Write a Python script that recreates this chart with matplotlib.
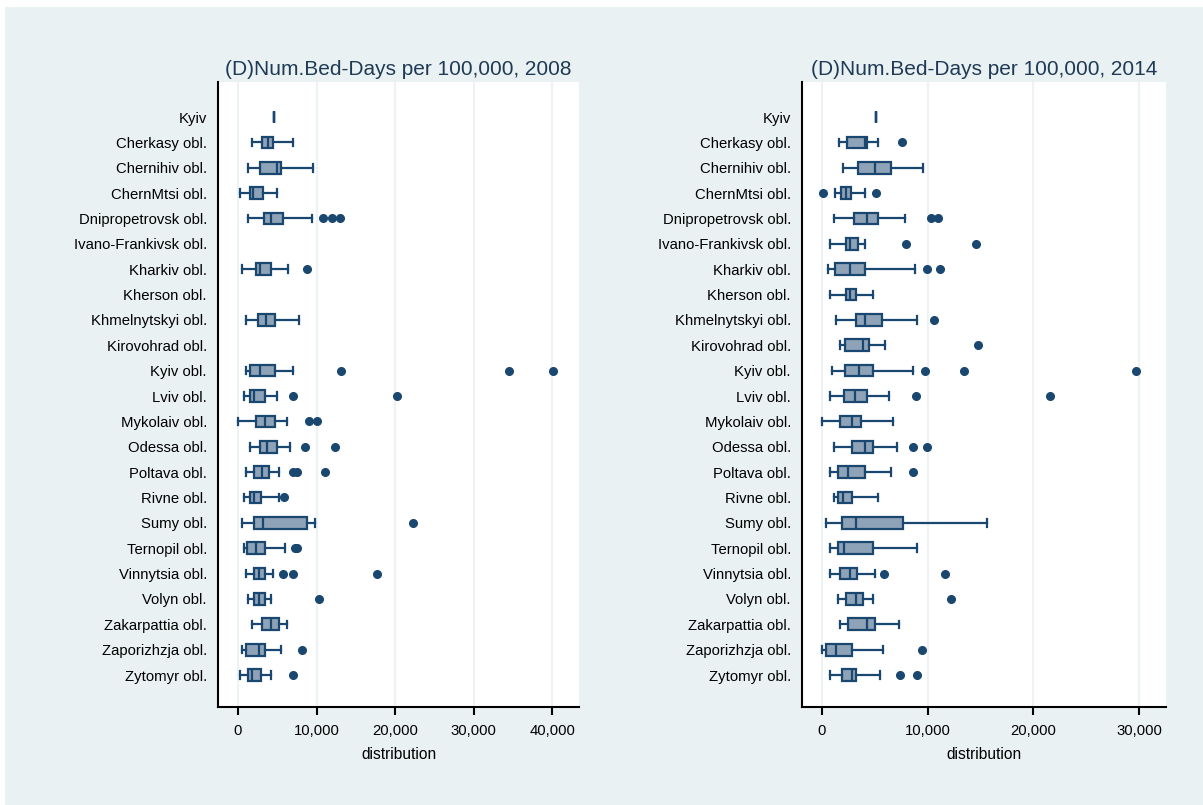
import matplotlib.pyplot as plt
from matplotlib.patches import Rectangle
from matplotlib.ticker import FuncFormatter

plt.rcParams['font.family'] = ['Liberation Sans', 'DejaVu Sans']

regions = ['Kyiv', 'Cherkasy obl.', 'Chernihiv obl.', 'ChernMtsi obl.',
           'Dnipropetrovsk obl.', 'Ivano-Frankivsk obl.', 'Kharkiv obl.',
           'Kherson obl.', 'Khmelnytskyi obl.', 'Kirovohrad obl.', 'Kyiv obl.',
           'Lviv obl.', 'Mykolaiv obl.', 'Odessa obl.', 'Poltava obl.',
           'Rivne obl.', 'Sumy obl.', 'Ternopil obl.', 'Vinnytsia obl.',
           'Volyn obl.', 'Zakarpattia obl.', 'Zaporizhzja obl.', 'Zytomyr obl.']

# 2008 summaries (None = no data shown)
lo_2008 = [4580, 1740, 1230, 210, 1230, None, 470, None, 975, None, 975, 720,
           0, 1480, 975, 720, 470, 720, 975, 1230, 1740, 470, 210]
q1_2008 = [4580, 3050, 2760, 1480, 3270, None, 2250, None, 2500, None, 1480,
           1480, 2250, 2760, 2000, 1480, 2000, 1100, 2000, 2000, 3010, 975, 1230]
med_2008 = [4580, 3770, 4920, 1950, 4150, None, 2800, None, 3520, None, 2840,
            2000, 3390, 3650, 3010, 2000, 3140, 2250, 2630, 2630, 4150, 2630, 1740]
q3_2008 = [4580, 4410, 5430, 3140, 5680, None, 4160, None, 4670, None, 4670,
           3390, 4670, 4920, 3900, 2880, 8740, 3390, 3390, 3390, 5170, 3390, 2880]
hi_2008 = [4580, 6950, 9500, 4920, 9410, None, 6400, None, 7720, None, 6950,
           4920, 6190, 6660, 5170, 5170, 9750, 5940, 4410, 4160, 6190, 5430, 4160]
out_2008 = [[], [], [], [], [10770, 11920, 13020], [], [8780], [], [], [],
            [13150, 34520, 40120], [7040, 20270], [9030, 10090], [8570, 12340],
            [7040, 7550, 11070], [5810], [22300], [7250, 7460],
            [5730, 7040, 17730], [10350], [], [8100], [7040]]

# 2014 summaries
lo_2014 = [5150, 1650, 2030, 1270, 1140, 760, 570, 760, 1330, 1710, 950, 760,
           0, 1140, 760, 1140, 380, 760, 760, 1520, 1710, 0, 760]
q1_2014 = [5150, 2400, 3410, 1840, 3030, 2270, 1270, 2270, 3220, 2220, 2220,
           2060, 1710, 2840, 1520, 1520, 1900, 1520, 1710, 2270, 2460, 380, 1900]
med_2014 = [5150, 4080, 5030, 2310, 4210, 2690, 2690, 2690, 4080, 3890, 3480,
            3160, 2880, 4020, 2500, 2030, 3260, 2120, 2690, 3260, 4210, 1360, 2880]
q3_2014 = [5150, 4270, 6480, 2780, 5340, 3450, 4110, 3260, 5720, 4400, 4780,
           4210, 3640, 4780, 4080, 2880, 7620, 4780, 3320, 3830, 4970, 2880, 3260]
hi_2014 = [5150, 5340, 9510, 4020, 7840, 4020, 8760, 4780, 8950, 5940, 8600,
           6290, 6670, 7080, 6480, 5340, 15610, 8950, 4970, 4780, 7240, 5780, 5530]
out_2014 = [[], [7550], [], [100, 5060], [10330, 11000], [7900, 14570],
            [9950, 11180], [], [10560], [14730], [9760, 13400, 29700],
            [8850, 21550], [], [8630, 9950], [8630], [], [], [],
            [5820, 11660], [12230], [], [9420], [7340, 9000]]

bg = '#eaf1f3'
navy = '#1a476f'
fill = '#8ea3b8'

fig = plt.figure(figsize=(12.03, 8.05), dpi=100, facecolor='white')
fig.patches.append(Rectangle((5 / 1203, 0), 1, 1 - 7 / 805, transform=fig.transFigure,
                             facecolor=bg, edgecolor='none', zorder=-10))


def draw_panel(rect, lo, q1, med, q3, hi, out, title, xlim, xticks):
    ax = fig.add_axes(rect)
    stats, pos = [], []
    for i in range(len(regions)):
        if lo[i] is None:
            continue
        stats.append(dict(whislo=lo[i], q1=q1[i], med=med[i], q3=q3[i],
                          whishi=hi[i], fliers=out[i]))
        pos.append(i)
    ax.bxp(stats, positions=pos, vert=False, widths=0.46, patch_artist=True,
           showfliers=True, capwidths=0.3,
           boxprops=dict(facecolor=fill, edgecolor=navy, linewidth=1.6),
           medianprops=dict(color=navy, linewidth=1.6),
           whiskerprops=dict(color=navy, linewidth=1.6),
           capprops=dict(color=navy, linewidth=1.6),
           flierprops=dict(marker='o', markerfacecolor=navy, markeredgecolor=navy,
                           markersize=5.5))
    ax.set_ylim(len(regions) - 1 + 1.26, -1.38)
    ax.set_yticks(range(len(regions)))
    ax.set_yticklabels(regions, fontsize=10.7, color='black')
    ax.tick_params(axis='y', length=0, pad=8)
    ax.set_xlim(*xlim)
    ax.set_xticks(xticks)
    ax.xaxis.set_major_formatter(FuncFormatter(lambda v, p: f'{int(v):,}'))
    ax.tick_params(axis='x', length=6, width=1.5, labelsize=10.7, pad=6)
    ax.grid(axis='x', color='#edf3f5', linewidth=1.5)
    ax.set_axisbelow(True)
    for s in ['top', 'right']:
        ax.spines[s].set_visible(False)
    for s in ['left', 'bottom']:
        ax.spines[s].set_linewidth(1.5)
    ax.set_xlabel('distribution', fontsize=11.2, labelpad=7)
    ax.set_title(title, fontsize=15, color='#1e3a55', pad=5)
    ax.set_facecolor('white')
    return ax


draw_panel([218 / 1203, 1 - 707 / 805, 361 / 1203, 625 / 805],
           lo_2008, q1_2008, med_2008, q3_2008, hi_2008, out_2008,
           '(D)Num.Bed-Days per 100,000, 2008', (-2545, 43380),
           [0, 10000, 20000, 30000, 40000])
draw_panel([802 / 1203, 1 - 707 / 805, 364 / 1203, 625 / 805],
           lo_2014, q1_2014, med_2014, q3_2014, hi_2014, out_2014,
           '(D)Num.Bed-Days per 100,000, 2014', (-1896, 32550),
           [0, 10000, 20000, 30000])

fig.savefig('out.png', dpi=100, facecolor=fig.get_facecolor())
